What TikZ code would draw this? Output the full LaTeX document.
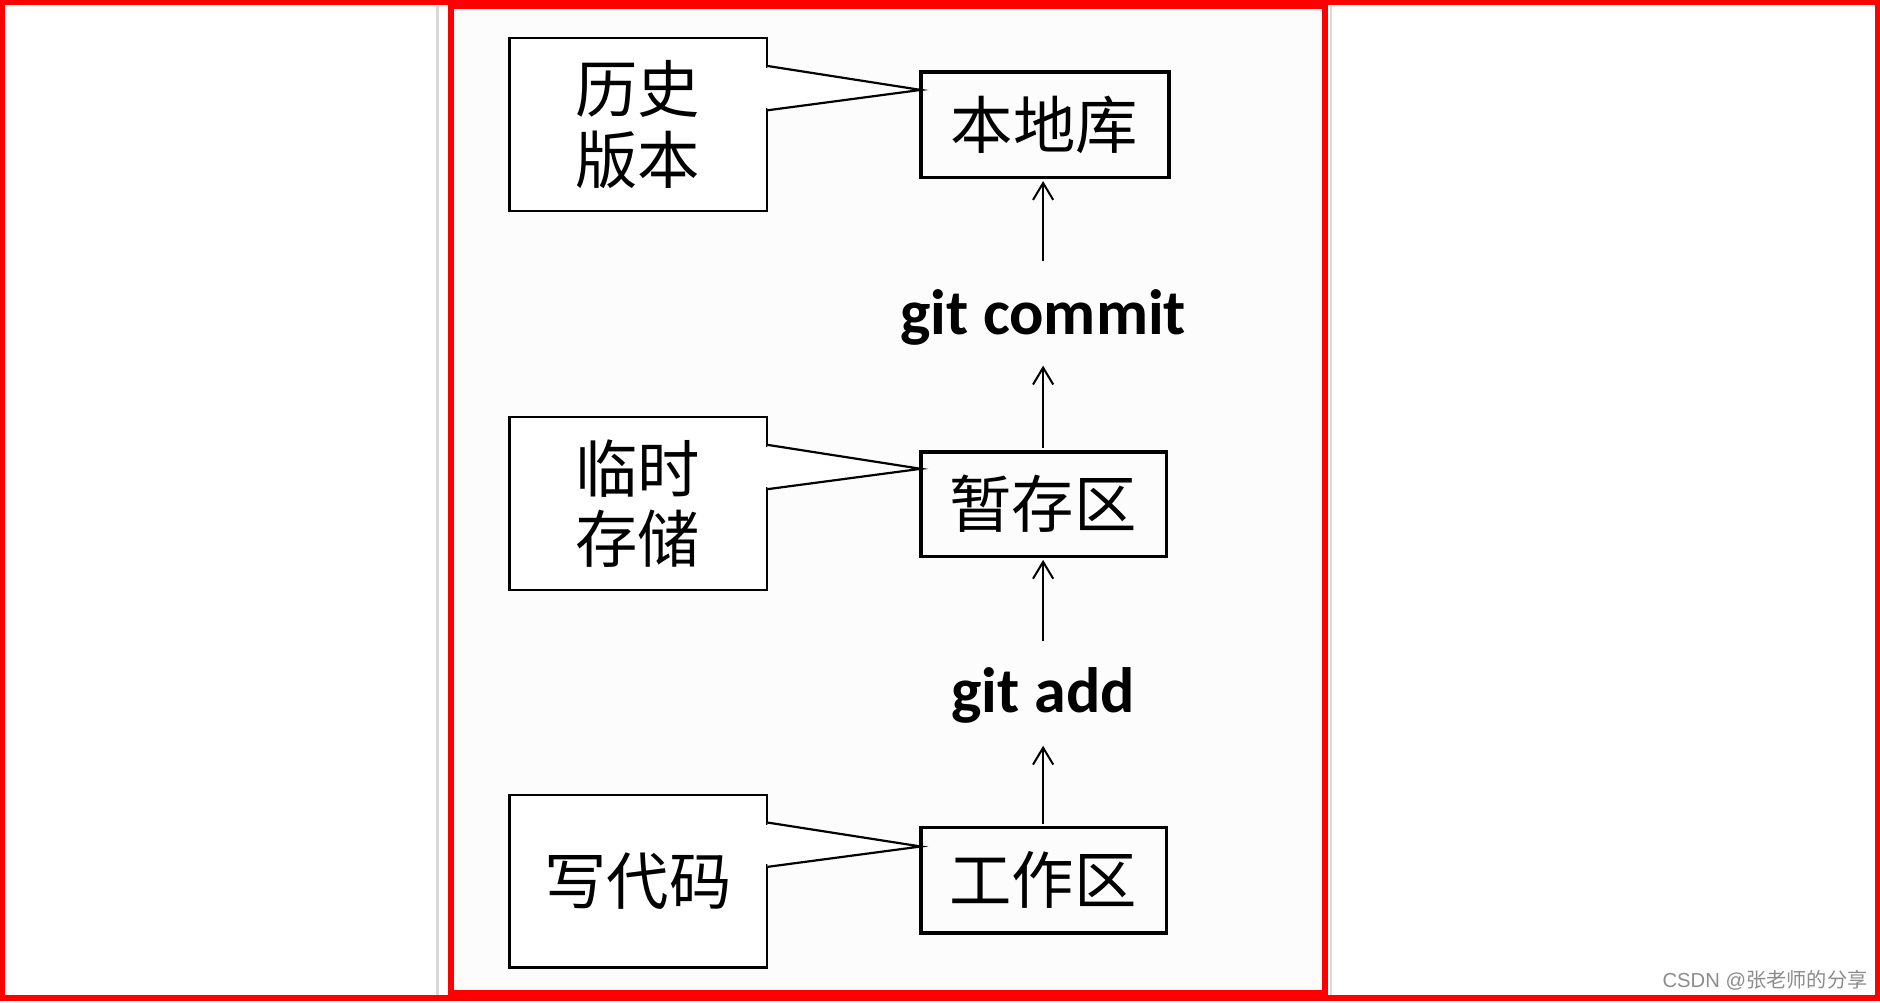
\documentclass[tikz,border=0pt]{standalone}
\usepackage{fontspec}
\usetikzlibrary{arrows.meta}
\newfontfamily\cjk{Noto Sans CJK SC}
\newfontfamily\calfont{Carlito}
\newfontfamily\libsans{Liberation Sans}
\begin{document}
\begin{tikzpicture}[x=0.05cm,y=-0.05cm,
 cbox/.style={draw,line width=2.6pt,fill=white},
 cn/.style={font=\cjk\fontsize{74}{84}\selectfont},
 gitl/.style={font=\calfont\bfseries\fontsize{76}{84}\selectfont},
 arr/.style={->,line width=2.4pt,>={Straight Barb[length=20pt,width=24pt]}}]
\useasboundingbox (0,0) rectangle (1568,836);
\fill[white] (0,0) rectangle (1568,836);
\fill[black!1] (376,5) rectangle (1105,828);
\draw[black!15,line width=3pt] (365,5)--(365,830) (1110,5)--(1110,830);
\draw[red,line width=7pt] (2,2) rectangle (1566,832);
\draw[red,line width=7pt] (376,5) rectangle (1105,828);
% main boxes
\draw[line width=4.2pt] (768,60) rectangle (975,148);
\node[cn] (b1) at (871,104) {本地库};
\draw[line width=4.2pt] (768,377) rectangle (973,464);
\node[cn] (b2) at (870,420) {暂存区};
\draw[line width=4.2pt] (768,690) rectangle (973,778);
\node[cn] (b3) at (870,734) {工作区};
\coordinate (b1s) at (870,151); \coordinate (b2n) at (870,374);
\coordinate (b2s) at (870,467); \coordinate (b3n) at (870,687);
\node[gitl] (gc) at (870,265) {git commit};
\node[gitl] (ga) at (870,580) {git add};
\draw[arr] (870,218) -- (b1s);
\draw[arr] (b2n) -- (870,305);
\draw[arr] (870,535) -- (b2s);
\draw[arr] (b3n) -- (870,622);
% callouts
\foreach \y/\t/\n in {32/历史\\版本/c1,348/临时\\存储/c2,663/写代码/c3}{
 \draw[cbox] (425,\y) rectangle (640,\y+144);
 \filldraw[line width=2.6pt,fill=white] (640,\y+23) -- (768,\y+43) -- (640,\y+60);
 \fill[white] (637,\y+25) rectangle (641.5,\y+58);
 \node[cn,align=center] (\n) at (532,\y+72) {\t};
}
\node[font=\fontsize{24}{28}\selectfont,text=black!45,anchor=east] (wm) at (1560,818) {\libsans CSDN @\cjk 张老师的分享};
\end{tikzpicture}
\end{document}
